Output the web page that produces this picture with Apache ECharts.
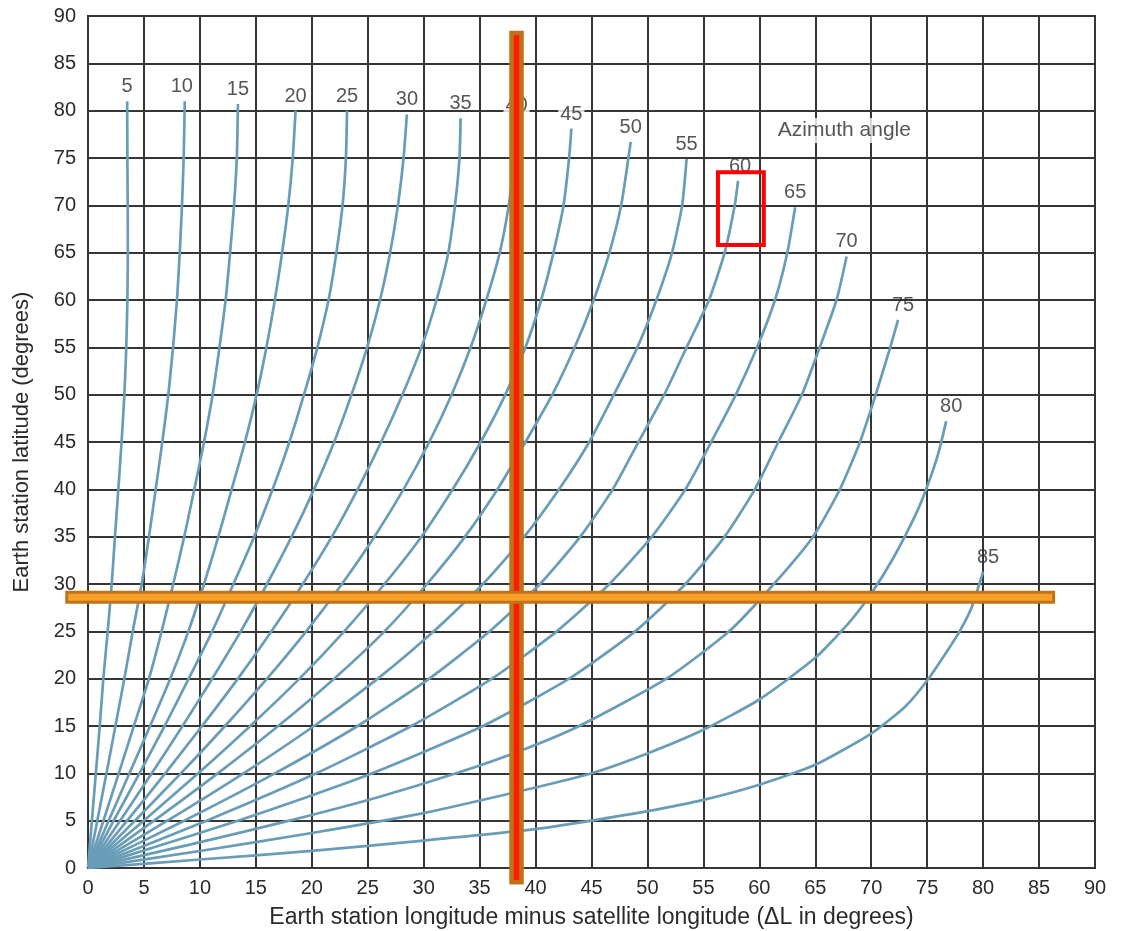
<!DOCTYPE html>
<html>
<head>
<meta charset="utf-8">
<script src="https://cdn.jsdelivr.net/npm/echarts@6/dist/echarts.min.js"></script>
<style>
html,body{margin:0;padding:0;background:#ffffff;}
#chart{width:1124px;height:931px;}
</style>
</head>
<body>
<div id="chart"></div>
<script>
// Azimuth angle curves: each point is [ΔL (deg), earth station latitude (deg)]
const azimuthAngles = [5, 10, 15, 20, 25, 30, 35, 40, 45, 50, 55, 60, 65, 70, 75, 80, 85];

const curve5  = [[0,0],[0.35,5],[0.7,10],[1.05,15],[1.37,20],[1.76,25],[2.12,30],[2.41,35],[2.71,40],[3.0,45],[3.25,50],[3.42,55],[3.52,60],[3.56,65],[3.55,70],[3.52,75],[3.5,81]];
const curve10 = [[0,0],[0.83,5],[1.65,10],[2.45,15],[3.25,20],[4.0,25],[4.8,30],[5.45,35],[6.05,40],[6.64,45],[7.18,50],[7.6,55],[7.95,60],[8.2,65],[8.4,70],[8.55,75],[8.65,81]];
const curve15 = [[0,0],[1.38,5],[2.75,10],[4.1,15],[5.45,20],[6.58,25],[7.62,30],[8.6,35],[9.5,40],[10.37,45],[11.14,50],[11.75,55],[12.3,60],[12.7,65],[13.05,70],[13.3,75],[13.4,80.7]];
const curve20 = [[0,0],[1.85,5],[3.7,10],[5.55,15],[7.35,20],[8.97,25],[10.37,30],[11.65,35],[12.84,40],[14.03,45],[15.07,50],[15.95,55],[16.7,60],[17.35,65],[17.9,70],[18.3,75],[18.55,80]];
const curve25 = [[0,0],[2.3,5],[4.6,10],[6.85,15],[9.0,20],[11.1,25],[13.0,30],[14.85,35],[16.5,40],[18.0,45],[19.3,50],[20.5,55],[21.5,60],[22.2,65],[22.75,70],[23.05,75],[23.15,80]];
const curve30 = [[0,0],[2.87,5],[5.7,10],[8.45,15],[11.1,20],[13.65,25],[16.0,30],[18.2,35],[20.2,40],[22.0,45],[23.55,50],[24.95,55],[26.1,60],[27.0,65],[27.7,70],[28.2,75],[28.5,79.6]];
const curve35 = [[0,0],[3.5,5],[6.9,10],[10.2,15],[13.4,20],[16.4,25],[19.2,30],[21.8,35],[24.1,40],[26.2,45],[28.1,50],[29.8,55],[31.15,60],[32.2,65],[32.8,70],[33.2,75],[33.3,79.2]];
const curve40 = [[0,0],[4.2,5],[8.3,10],[12.25,15],[16.0,20],[19.5,25],[22.7,30],[25.6,35],[28.2,40],[30.5,45],[32.5,50],[34.2,55],[35.6,60],[36.8,65],[37.6,70],[38.1,75],[38.3,79]];
const curve45 = [[0,0],[4.98,5],[9.85,10],[14.5,15],[18.9,20],[22.9,25],[26.5,30],[29.8,35],[32.6,40],[35.1,45],[37.3,50],[39.1,55],[40.5,60],[41.6,65],[42.5,70],[43.0,75],[43.2,78.1]];
const curve50 = [[0,0],[5.9,5],[11.6,10],[17.0,15],[22.0,20],[26.5,25],[30.3,30],[33.7,35],[36.6,40],[39.1,45],[41.5,50],[43.5,55],[45.2,60],[46.6,65],[47.65,70],[48.3,75],[48.5,76.7]];
const curve55 = [[0,0],[7.1,5],[13.9,10],[20.2,15],[25.9,20],[30.9,25],[35.3,30],[39.0,35],[42.1,40],[44.8,45],[47.0,50],[49.1,55],[50.8,60],[52.2,65],[53.1,70],[53.5,74.9]];
const curve60 = [[0,0],[8.6,5],[16.7,10],[24.1,15],[30.5,20],[35.9,25],[40.4,30],[44.0,35],[46.9,40],[49.2,45],[51.5,50],[53.5,55],[55.5,60],[56.9,65],[57.8,70],[58.1,72.6]];
const curve65 = [[0,0],[10.6,5],[20.4,10],[28.9,15],[36.1,20],[41.9,25],[46.6,30],[50.4,35],[53.4,40],[55.7,45],[57.9,50],[59.8,55],[61.4,60],[62.5,65],[63.2,69.8]];
const curve70 = [[0,0],[5.4,2],[13.4,5],[19.6,7.5],[25.4,10],[35.3,15],[43.0,20],[48.9,25],[53.4,30],[56.9,35],[59.6,40],[61.7,45],[63.8,50],[65.4,55],[66.9,60],[67.8,64.6]];
const curve75 = [[0,0],[9.2,2.5],[18.0,5],[26.0,7.5],[32.9,10],[38.9,12.5],[43.9,15],[51.7,20],[57.3,25],[61.3,30],[64.8,35],[67.2,40],[69.0,45],[70.4,50],[71.7,55],[72.4,57.9]];
const curve80 = [[0,0],[10,1.8],[20,3.7],[30,5.8],[40,8.5],[45,10],[50,12.1],[55,14.6],[60,17.8],[65,22.2],[68,25.9],[70,29.0],[72,32.8],[74,37.4],[75,40.3],[76,43.8],[76.7,47.2]];
const curve85 = [[0,0],[10,0.9],[20,1.8],[30,2.9],[40,4.1],[45,5],[50,6.0],[55,7.2],[60,8.8],[65,10.9],[70,14.2],[73,17.0],[75,19.8],[77,23.3],[78,25.2],[79,27.6],[80,31.3]];

const curves = [curve5, curve10, curve15, curve20, curve25, curve30, curve35, curve40, curve45,
                curve50, curve55, curve60, curve65, curve70, curve75, curve80, curve85];

// Axis ticks
const axisMin = [0];
const axisMax = [90];
const axisStep = [5];

// Annotation text
const annotationText = ['Azimuth angle'];
const annotationPoint = [67.6, 77.9];

// Overlay markers (data coordinates)
const markerLongitude = [38.3];           // vertical marker at ΔL
const markerLongitudeSpan = [-1.5, 88.2]; // latitude extent of vertical marker
const markerLatitude = [28.6];            // horizontal marker at latitude
const markerLatitudeSpan = [-1.9, 86.3];  // ΔL extent of horizontal marker
const highlightLongitude = [56.3, 60.4];
const highlightLatitude = [65.8, 73.5];

const FONT = "'Liberation Sans', Arial, sans-serif";
const TEXT = '#2a2a2a';
const GRID = '#353535';
const CURVE = '#699db7';

const chart = echarts.init(document.getElementById('chart'), null, {renderer: 'canvas'});

const lineSeries = curves.map((c, i) => ({
  type: 'line',
  name: String(azimuthAngles[i]),
  data: c,
  showSymbol: false,
  symbol: 'none',
  smooth: 0.2,
  lineStyle: {color: CURVE, width: 2.7},
  silent: true,
  z: 3
}));

const needsBg = {40: true, 45: true};
const shiftRight = {75: 5, 80: 5, 85: 5, 60: 2, 10: -3};

const labelSeries = {
  type: 'scatter',
  symbolSize: 1,
  itemStyle: {color: 'rgba(0,0,0,0)'},
  silent: true,
  z: 5,
  data: curves.map((c, i) => {
    const a = azimuthAngles[i];
    return {
      value: c[c.length - 1],
      label: {
        show: true,
        position: 'top',
        distance: 4,
        offset: [shiftRight[a] || 0, 0],
        formatter: String(a),
        fontSize: 20,
        fontFamily: FONT,
        color: TEXT,
        backgroundColor: needsBg[a] ? '#ffffff' : 'transparent',
        padding: needsBg[a] ? [0, 2, 0, 2] : 0
      }
    };
  })
};

const annotationSeries = {
  type: 'scatter',
  symbolSize: 1,
  itemStyle: {color: 'rgba(0,0,0,0)'},
  silent: true,
  z: 5,
  data: [{
    value: annotationPoint,
    label: {
      show: true,
      position: 'inside',
      formatter: annotationText[0],
      fontSize: 21,
      fontFamily: FONT,
      color: TEXT,
      backgroundColor: '#ffffff',
      padding: [2, 4, 2, 4]
    }
  }]
};

const axisCommon = {
  type: 'value',
  min: axisMin[0],
  max: axisMax[0],
  interval: axisStep[0],
  nameLocation: 'middle',
  nameTextStyle: {fontSize: 22, color: TEXT, fontFamily: FONT},
  axisLine: {show: true, onZero: false, lineStyle: {color: GRID, width: 2}},
  axisTick: {show: false},
  axisLabel: {fontSize: 20, color: TEXT, fontFamily: FONT},
  splitLine: {show: true, lineStyle: {color: GRID, width: 2}}
};

const option = {
  animation: false,
  backgroundColor: '#ffffff',
  grid: {left: 88, right: 29, top: 16, bottom: 63, containLabel: false, outerBoundsMode: 'none',
         show: true, borderColor: GRID, borderWidth: 2, backgroundColor: 'transparent'},
  xAxis: Object.assign({}, axisCommon, {
    name: 'Earth station longitude minus satellite longitude (ΔL in degrees)',
    nameGap: 38,
    nameTextStyle: {fontSize: 23, color: TEXT, fontFamily: FONT},
    axisLabel: {fontSize: 20, color: TEXT, fontFamily: FONT, margin: 10}
  }),
  yAxis: Object.assign({}, axisCommon, {
    name: 'Earth station latitude (degrees)',
    nameGap: 55,
    axisLabel: {fontSize: 20, color: TEXT, fontFamily: FONT, margin: 12}
  }),
  series: lineSeries.concat([labelSeries, annotationSeries])
};

chart.setOption(option);

function toPx(x, y) { return chart.convertToPixel({gridIndex: 0}, [x, y]); }

const vTop = toPx(markerLongitude[0], markerLongitudeSpan[1]);
const vBot = toPx(markerLongitude[0], markerLongitudeSpan[0]);
const hLeft = toPx(markerLatitudeSpan[0], markerLatitude[0]);
const hRight = toPx(markerLatitudeSpan[1], markerLatitude[0]);
const bTL = toPx(highlightLongitude[0], highlightLatitude[1]);
const bBR = toPx(highlightLongitude[1], highlightLatitude[0]);

chart.setOption({
  graphic: [
    {
      type: 'rect', z: 100,
      shape: {x: vTop[0] - 5, y: vTop[1], width: 10, height: vBot[1] - vTop[1]},
      style: {fill: '#ff1a00', stroke: '#c0721a', lineWidth: 4.5}
    },
    {
      type: 'rect', z: 101,
      shape: {x: hLeft[0], y: hLeft[1] - 5, width: hRight[0] - hLeft[0], height: 10},
      style: {fill: '#f8a126', stroke: '#c07318', lineWidth: 3}
    },
    {
      type: 'rect', z: 102,
      shape: {x: bTL[0], y: bTL[1], width: bBR[0] - bTL[0], height: bBR[1] - bTL[1]},
      style: {fill: 'transparent', stroke: '#ff0000', lineWidth: 4}
    }
  ]
});
</script>
</body>
</html>
